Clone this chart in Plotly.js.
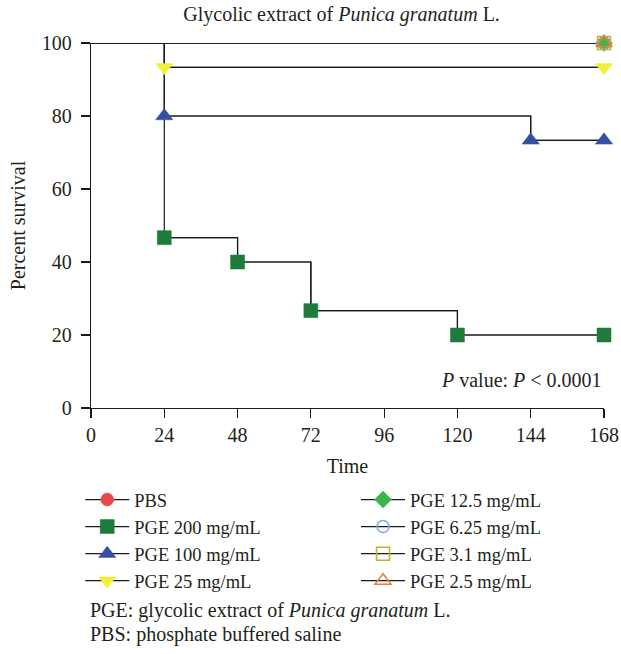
<!DOCTYPE html>
<html>
<head>
<meta charset="utf-8">
<script src="https://cdn.plot.ly/plotly-3.0.1.min.js"></script>
<style>html,body{margin:0;padding:0;background:#fff;}#chart{width:621px;height:654px;}</style>
</head>
<body>
<div id="chart"></div>
<script>
// Kaplan-Meier survival data (time in hours, percent survival)
const pbsT = [0, 168];
const pbsS = [100, 100];
const pge200T = [0, 24, 48, 72, 120, 168];
const pge200S = [100, 46.67, 40, 26.67, 20, 20];
const pge100T = [0, 24, 144, 168];
const pge100S = [100, 80, 73.33, 73.33];
const pge25T = [0, 24, 168];
const pge25S = [100, 93.33, 93.33];
const pge12T = [0, 168];
const pge12S = [100, 100];
const pge6T = [0, 168];
const pge6S = [100, 100];
const pge3T = [0, 168];
const pge3S = [100, 100];
const pge2T = [0, 168];
const pge2S = [100, 100];

const xTicks = [0, 24, 48, 72, 96, 120, 144, 168];
const yTicks = [0, 20, 40, 60, 80, 100];

const FONT = "Liberation Serif, Times New Roman, serif";
const TXT = "#231f20";
const LINE = "#1a1a1a";

const series = [
  {name: "PBS", t: pbsT, s: pbsS, sym: "circle", color: "#e8484a", size: 13, legend: "legend", rank: 0},
  {name: "PGE 12.5 mg/mL", t: pge12T, s: pge12S, sym: "diamond", color: "#3db54a", size: 13, legend: "legend2", rank: 0},
  {name: "PGE 6.25 mg/mL", t: pge6T, s: pge6S, sym: "circle-open", color: "#7ea8e0", size: 12, legend: "legend2", rank: 1},
  {name: "PGE 3.1 mg/mL", t: pge3T, s: pge3S, sym: "square-open", color: "#b8b42c", size: 13, legend: "legend2", rank: 2},
  {name: "PGE 2.5 mg/mL", t: pge2T, s: pge2S, sym: "triangle-up-open", color: "#f07b2c", size: 14, legend: "legend2", rank: 3},
  {name: "PGE 25 mg/mL", t: pge25T, s: pge25S, sym: "triangle-down", color: "#f2ee3e", size: 15, legend: "legend", rank: 3},
  {name: "PGE 100 mg/mL", t: pge100T, s: pge100S, sym: "triangle-up", color: "#3450a3", size: 15, legend: "legend", rank: 2},
  {name: "PGE 200 mg/mL", t: pge200T, s: pge200S, sym: "square", color: "#1e7b3b", size: 14, legend: "legend", rank: 1}
];

const traces = [];
// full step curves (no legend)
series.forEach(d => {
  traces.push({
    type: "scatter", mode: "lines", x: d.t, y: d.s, name: d.name,
    line: {shape: "hv", color: LINE, width: 1.2},
    showlegend: false, cliponaxis: false, hoverinfo: "skip"
  });
});
// event markers (from the first event onward), carry the legend entries
series.forEach(d => {
  const open = d.sym.indexOf("open") >= 0;
  traces.push({
    type: "scatter", mode: "lines+markers", name: d.name,
    x: d.t.slice(1), y: d.s.slice(1),
    line: {shape: "hv", color: LINE, width: 1.2},
    marker: {symbol: d.sym, size: d.size, color: d.color, opacity: 1,
             line: {color: d.color, width: open ? 1.5 : 0.5}},
    legend: d.legend, legendrank: d.rank, cliponaxis: false
  });
});

const legendFont = {family: FONT, size: 18.5, color: TXT};

const layout = {
  width: 621, height: 654,
  margin: {l: 91, r: 17, t: 43, b: 246},
  paper_bgcolor: "#fff", plot_bgcolor: "#fff",
  font: {family: FONT, color: TXT, size: 20},
  title: {
    text: "Glycolic extract of <i>Punica granatum</i> L.",
    font: {family: FONT, size: 20, color: TXT},
    x: 0.55, xanchor: "center", y: 0.978, yanchor: "middle"
  },
  xaxis: {
    range: [0, 168], tickvals: xTicks, ticktext: xTicks.map(String),
    showgrid: false, zeroline: false, showline: true, linecolor: LINE, linewidth: 1.2,
    ticks: "outside", ticklen: 9, tickwidth: 1.2, tickcolor: LINE,
    tickfont: {family: FONT, size: 20, color: TXT},
    title: {text: "Time", font: {family: FONT, size: 20, color: TXT}, standoff: 13}
  },
  yaxis: {
    range: [0, 100], tickvals: yTicks, ticktext: yTicks.map(String),
    showgrid: false, zeroline: false, showline: true, linecolor: LINE, linewidth: 1.2,
    ticks: "outside", ticklen: 9, tickwidth: 1.2, tickcolor: LINE,
    ticklabelstandoff: 5,
    tickfont: {family: FONT, size: 20, color: TXT},
    title: {text: "Percent survival", font: {family: FONT, size: 20, color: TXT}, standoff: 10}
  },
  legend: {
    x: -0.021, xanchor: "left", y: -0.2, yanchor: "top",
    orientation: "v", font: legendFont, itemwidth: 44,
    bgcolor: "rgba(0,0,0,0)", tracegroupgap: 0
  },
  legend2: {
    x: 0.5166, xanchor: "left", y: -0.2, yanchor: "top",
    orientation: "v", font: legendFont, itemwidth: 44,
    bgcolor: "rgba(0,0,0,0)", tracegroupgap: 0
  },
  annotations: [
    {xref: "paper", yref: "y", x: 1, y: 7.7, xanchor: "right", yanchor: "middle", showarrow: false,
     text: "<i>P</i> value: <i>P</i> < 0.0001", font: {family: FONT, size: 20, color: TXT}},
    {xref: "paper", yref: "paper", x: -0.005, y: -0.555, xanchor: "left", yanchor: "middle", showarrow: false,
     text: "PGE: glycolic extract of <i>Punica granatum</i> L.", font: {family: FONT, size: 20, color: TXT}},
    {xref: "paper", yref: "paper", x: -0.005, y: -0.62, xanchor: "left", yanchor: "middle", showarrow: false,
     text: "PBS: phosphate buffered saline", font: {family: FONT, size: 20, color: TXT}}
  ],
  showlegend: true
};

Plotly.newPlot("chart", traces, layout, {displayModeBar: false, staticPlot: true});
</script>
</body>
</html>
